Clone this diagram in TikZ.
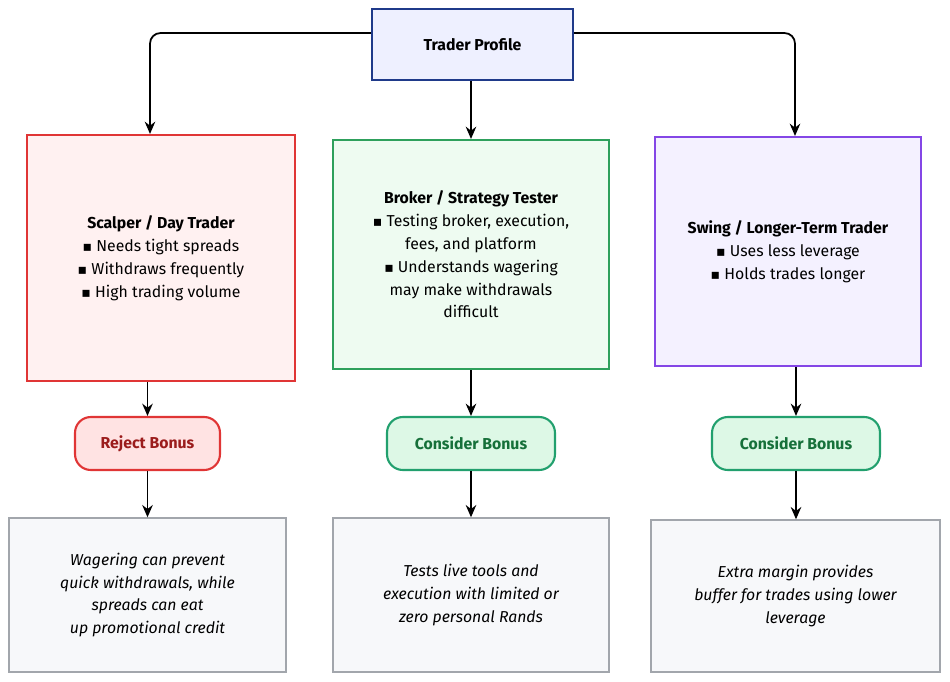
\documentclass[tikz,border=0pt]{standalone}
\usepackage{fontspec}
\setmainfont{Fira Sans}
\newfontfamily\bulletfont{DejaVu Sans}
\newcommand{\sq}{{\bulletfont\footnotesize ▪}}
\usetikzlibrary{positioning,arrows.meta}

\definecolor{profileFill}{HTML}{EEF0FF}
\definecolor{profileLine}{HTML}{1F3A8A}
\definecolor{scalpFill}{HTML}{FFF1F1}
\definecolor{scalpLine}{HTML}{E03535}
\definecolor{brokerFill}{HTML}{EEFBF1}
\definecolor{brokerLine}{HTML}{2EA05C}
\definecolor{swingFill}{HTML}{F4F1FF}
\definecolor{swingLine}{HTML}{8446E6}
\definecolor{rejectFill}{HTML}{FFE3E3}
\definecolor{rejectText}{HTML}{9B1C1C}
\definecolor{considerFill}{HTML}{DDF8E6}
\definecolor{considerLine}{HTML}{22A06E}
\definecolor{considerText}{HTML}{16703A}
\definecolor{noteFill}{HTML}{F7F8FA}
\definecolor{noteLine}{HTML}{A2A6AC}

\tikzset{
  box/.style={draw, line width=1.2pt, align=center, font=\small, inner sep=0pt},
  bonus/.style={box, rounded corners=9pt, font=\small\bfseries},
  note/.style={box, draw=noteLine, fill=noteFill, line width=0.8pt, font=\small\itshape},
  flow/.style={-{Stealth[length=7pt,width=6pt]}, line width=1pt, rounded corners=6pt}
}

\begin{document}
\begin{tikzpicture}[x=0.02cm, y=-0.02cm]
  \useasboundingbox (0,0) rectangle (950,682);

  \node[box, draw=profileLine, fill=profileFill, minimum width=4.02cm, minimum height=1.42cm,
        font=\small\bfseries] (profile) at (472.5,44.5) {Trader Profile};

  \node[box, draw=scalpLine, fill=scalpFill, minimum width=5.36cm, minimum height=4.92cm]
        (scalper) at (161,258) {\textbf{Scalper / Day Trader}\\[2pt] \sq\ Needs tight spreads\\[2pt]
        \sq\ Withdraws frequently\\[2pt] \sq\ High trading volume};
  \node[box, draw=brokerLine, fill=brokerFill, minimum width=5.52cm, minimum height=4.58cm]
        (broker) at (471,254.5) {\textbf{Broker / Strategy Tester}\\[2pt] \sq\ Testing broker, execution,\\[2pt]
        fees, and platform\\[2pt] \sq\ Understands wagering\\[2pt] may make withdrawals\\[2pt] difficult};
  \node[box, draw=swingLine, fill=swingFill, minimum width=5.32cm, minimum height=4.58cm]
        (swing) at (788,251.5) {\textbf{Swing / Longer-Term Trader}\\[2pt] \sq\ Uses less leverage\\[2pt]
        \sq\ Holds trades longer};

  \node[bonus, draw=scalpLine, fill=rejectFill, text=rejectText, minimum width=2.9cm,
        minimum height=1.06cm] (reject) at (147.5,443.5) {Reject Bonus};
  \node[bonus, draw=considerLine, fill=considerFill, text=considerText, minimum width=3.36cm,
        minimum height=1.06cm] (considerB) at (471,443.5) {Consider Bonus};
  \node[bonus, draw=considerLine, fill=considerFill, text=considerText, minimum width=3.36cm,
        minimum height=1.06cm] (considerS) at (796,443.5) {Consider Bonus};

  \node[note, minimum width=5.54cm, minimum height=3.08cm] (noteS) at (147.5,595)
        {Wagering can prevent\\[2pt] quick withdrawals, while\\[2pt] spreads can eat\\[2pt] up promotional credit};
  \node[note, minimum width=5.52cm, minimum height=3.08cm] (noteB) at (471,595)
        {Tests live tools and\\[2pt] execution with limited or\\[2pt] zero personal Rands};
  \node[note, minimum width=5.78cm, minimum height=3.04cm] (noteW) at (795.5,596)
        {Extra margin provides\\[2pt] buffer for trades using lower\\[2pt] leverage};

  % connectors
  \draw[flow] (profile.west |- 0,33) -| (scalper.north -| 150,0);
  \draw[flow] (profile.east |- 0,33) -| (swing.north -| 795,0);
  \draw[flow] (profile.south -| broker) -- (broker);
  \draw[flow] (scalper.south -| reject) -- (reject);
  \draw[flow] (broker) -- (considerB);
  \draw[flow] (swing.south -| considerS) -- (considerS);
  \draw[flow] (reject) -- (reject |- noteS.north);
  \draw[flow] (considerB) -- (noteB);
  \draw[flow] (considerS) -- (considerS |- noteW.north);
\end{tikzpicture}
\end{document}
